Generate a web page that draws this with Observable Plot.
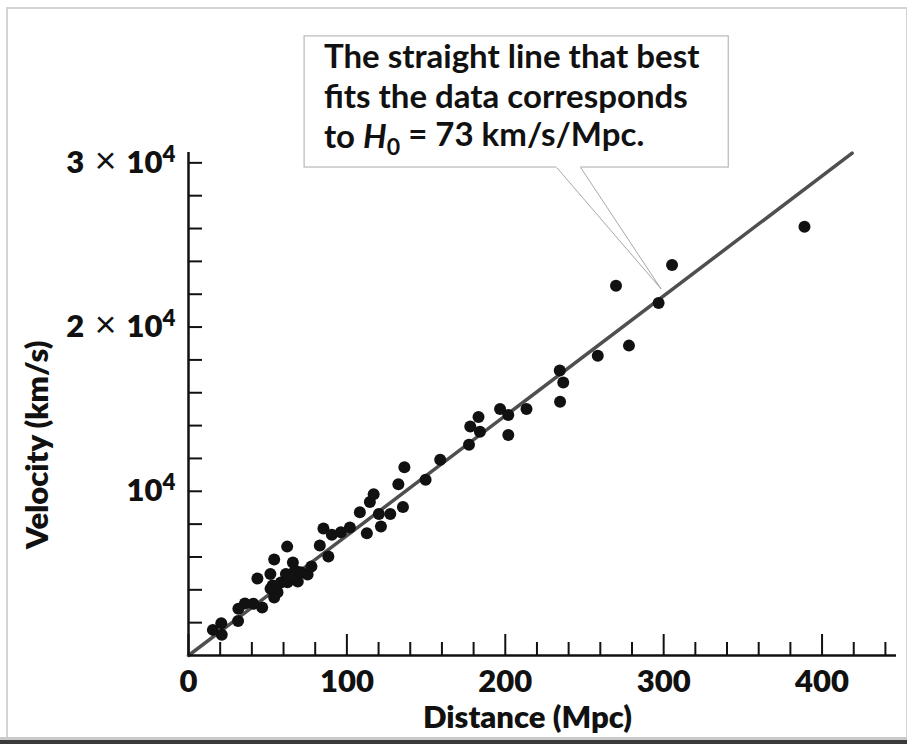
<!DOCTYPE html>
<html><head><meta charset="utf-8">
<script src="https://cdn.jsdelivr.net/npm/d3@7"></script>
<script src="https://cdn.jsdelivr.net/npm/@observablehq/plot@0.6"></script>
<style>
html,body{margin:0;padding:0;background:#fff;}
#wrap{position:relative;width:907px;height:756px;overflow:hidden;background:#fff;}
#frame{position:absolute;left:6px;top:7px;width:898px;height:730px;border:2px solid #d4d4d4;border-bottom:none;pointer-events:none;z-index:2;}
#bar{position:absolute;left:0;top:737px;width:907px;height:3px;background:#cacaca;z-index:2;}
#bar2{position:absolute;left:0;top:740px;width:907px;height:4px;background:#3a3a3a;z-index:2;}
</style></head>
<body><div id="wrap"><div id="frame"></div><div id="bar"></div><div id="bar2"></div></div>
<script>
// Galaxy data: distance (Mpc) and recession velocity (km/s)
const distance = [15.4, 20.7, 21.0, 31.3, 31.5, 35.6, 40.9, 46.5, 43.5, 51.7, 54.1, 62.3, 53.1, 56.2, 54.1, 58.3, 61.5, 62.5, 65.9, 67.2, 69.0, 70.9, 75.2, 77.6, 82.9, 88.3, 85.2, 90.5, 96.2, 101.9, 112.6, 108.2, 114.5, 116.9, 120.2, 121.5, 127.4, 132.5, 135.4, 136.3, 149.7, 158.9, 177.1, 177.9, 183.1, 184.0, 196.7, 201.9, 201.9, 213.4, 234.4, 236.6, 234.6, 258.4, 278.1, 269.9, 296.8, 305.3, 388.9, 63.3, 51.8];
const velocity = [1560, 1970, 1270, 2100, 2840, 3160, 3150, 2920, 4690, 4970, 5850, 6630, 4260, 3850, 3530, 4440, 4970, 4460, 5660, 5170, 4500, 5070, 4930, 5420, 6700, 6030, 7730, 7360, 7500, 7790, 7440, 8720, 9350, 9820, 8620, 7850, 8620, 10430, 9040, 11460, 10700, 11920, 12830, 13940, 14520, 13630, 15010, 14650, 13430, 15010, 17350, 16630, 15450, 18260, 18870, 22520, 21470, 23780, 26110, 4870, 4060];

// Best fit line
const H0 = 73;
const fitDistances = [0, 419];

// Axes
const xDomain = [0, 447];
const yDomain = [0, 30630];
const xMajorTicks = [0, 100, 200, 300, 400];
const xMinorTicks = d3.range(20, 441, 20).filter(d => d % 100 !== 0);
const yTicks = d3.range(2000, 30001, 2000);
const yTickValues = [10000, 20000, 30000];
const yTickLabels = ["10^4", "2\u2004×\u200410^4", "3\u2004×\u200410^4"];
const xTitle = "Distance (Mpc)";
const yTitle = "Velocity (km/s)";

// Callout (data units)
const calloutLines = ["The straight line that best", "fits the data corresponds", "to H_0 = 73 km/s/Mpc."];
const calloutBaselines = [35750, 33310, 30880];
const callout = {x1: 73.3, x2: 341.1, y1: 29714, y2: 37700, baseX1: 232.5, baseX2: 247.6, tipX: 298.4, tipY: 22317, textX: 85.5};

const points = distance.map((d, i) => ({d, v: velocity[i]}));
const yLabelData = yTickValues.map((v, i) => ({v, t: yTickLabels[i]}));
const FONT = "Lato, 'Open Sans', sans-serif";

const plot = Plot.plot({
  width: 907, height: 756,
  marginLeft: 188, marginRight: 11, marginTop: 152, marginBottom: 101,
  x: {domain: xDomain, axis: null},
  y: {domain: yDomain, axis: null},
  style: {fontFamily: FONT, background: "transparent", overflow: "visible"},
  marks: [
    Plot.line(fitDistances, {x: d => d, y: d => H0 * d, stroke: "#4f4f4f", strokeWidth: 3.5}),
    Plot.dot(points, {x: "d", y: "v", r: 6, fill: "#111", stroke: "none"}),
    Plot.ruleY(yTicks, {y: d => d, x1: 0, x2: 0, insetRight: -14, stroke: "#111", strokeWidth: 2}),
    Plot.ruleX(xMinorTicks, {x: d => d, y1: 0, y2: 0, insetBottom: 13, stroke: "#111", strokeWidth: 2}),
    Plot.ruleX(xMajorTicks, {x: d => d, y1: 0, y2: 0, insetBottom: 21, stroke: "#111", strokeWidth: 2}),
    Plot.ruleX([0], {y1: 0, y2: yDomain[1], stroke: "#111", strokeWidth: 2.5}),
    Plot.ruleY([0], {x1: 0, x2: xDomain[1], stroke: "#111", strokeWidth: 2.5}),
    Plot.text(xMajorTicks, {x: d => d, y: 0, text: d => String(d), lineAnchor: "bottom", dy: 36, fontSize: 31, fontWeight: 800, fill: "#111"}),
    Plot.text(yLabelData, {x: 0, y: "v", text: "t", textAnchor: "end", lineAnchor: "bottom", dx: -13, dy: 10, fontSize: 31, fontWeight: 800, fill: "#111"}),
    Plot.text([xTitle], {frameAnchor: "bottom", text: d => d, lineAnchor: "bottom", dx: -15, dy: 72, fontSize: 31, fontWeight: 800, fill: "#111"}),
    Plot.text([yTitle], {frameAnchor: "left", text: d => d, rotate: -90, dx: -150, dy: 145, fontSize: 31, fontWeight: 800, fill: "#111"}),
    // callout
    Plot.rect([callout], {x1: "x1", x2: "x2", y1: "y1", y2: "y2", fill: "white", stroke: "#b8b8b8", strokeWidth: 1.2}),
    Plot.ruleY([callout], {y: "y1", x1: "baseX1", x2: "baseX2", stroke: "white", strokeWidth: 3}),
    Plot.link([callout], {x1: "baseX1", y1: "y1", x2: "tipX", y2: "tipY", stroke: "#a8a8a8", strokeWidth: 1}),
    Plot.link([callout], {x1: "baseX2", y1: "y1", x2: "tipX", y2: "tipY", stroke: "#a8a8a8", strokeWidth: 1}),
    Plot.text(calloutLines, {x: callout.textX, y: (d, i) => calloutBaselines[i], text: d => d, textAnchor: "start", lineAnchor: "bottom", fontSize: 33, fontWeight: 700, fill: "#111"})
  ]
});

// rich text: superscripts, multiplication sign and H0 subscript
d3.select(plot).selectAll("text").each(function() {
  const s = this.textContent;
  const el = d3.select(this);
  if (s.includes("^")) {
    const [base, sup] = s.split("^");
    el.text(null);
    const parts = base.split("×");
    if (parts.length === 2) {
      el.append("tspan").text(parts[0]);
      el.append("tspan").attr("font-weight", 400).attr("font-size", "1.2em").text("×");
      el.append("tspan").text(parts[1]);
    } else {
      el.append("tspan").text(base);
    }
    el.append("tspan").attr("dy", "-0.5em").attr("font-size", "0.72em").text(sup);
  } else if (s.includes("H_0")) {
    const [pre, post] = s.split("H_0");
    el.text(null);
    el.append("tspan").text(pre);
    el.append("tspan").attr("font-style", "italic").text("H");
    el.append("tspan").attr("dy", "0.28em").attr("font-size", "0.7em").text("0");
    el.append("tspan").attr("dy", "-0.28em").text(post);
  }
});

const wrap = document.getElementById("wrap");
plot.style.position = "absolute";
plot.style.left = "0px";
plot.style.top = "0px";
wrap.appendChild(plot);
</script>
</body></html>
